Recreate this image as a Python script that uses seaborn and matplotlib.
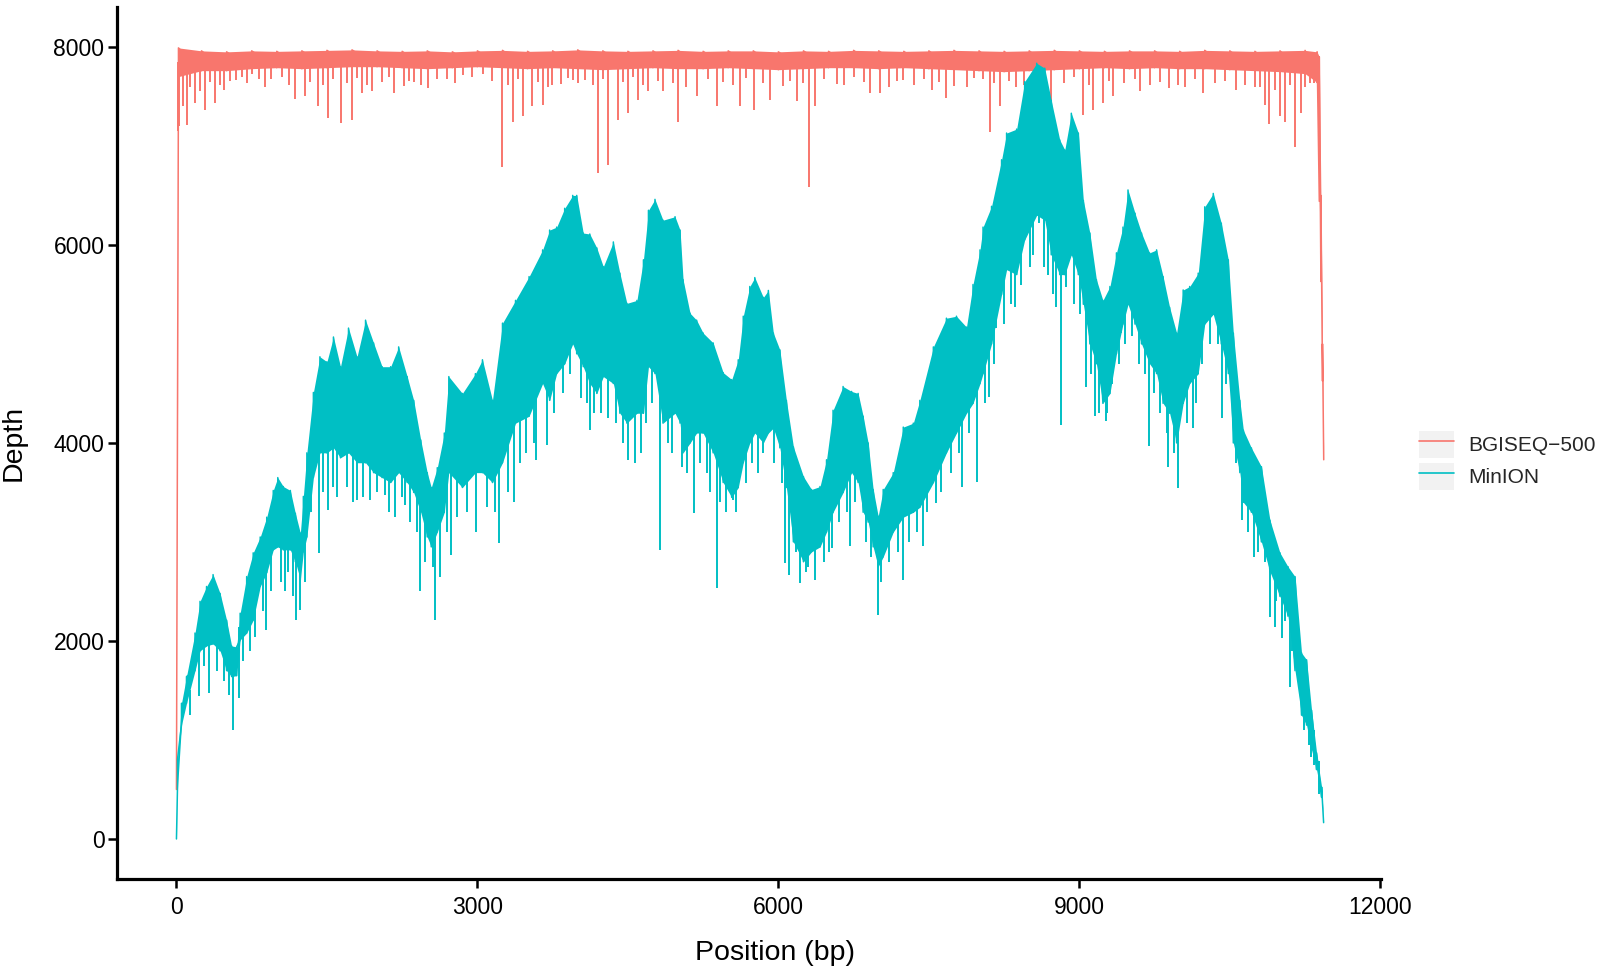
import numpy as np
import pandas as pd
import matplotlib
matplotlib.use("Agg")
import matplotlib.pyplot as plt
import seaborn as sns
from matplotlib.lines import Line2D
from matplotlib.patches import Patch

# ---------------------------------------
# Valores (profundidad por posición)
# ---------------------------------------
platforms = ["BGISEQ\u2212500", "MinION"]
colors = ["#F8766D", "#00BFC4"]

# BGISEQ-500: borde superior / inferior de la banda
bgi_pos = [0, 20, 250, 500, 750, 1000, 1250, 1500, 1750, 2000, 2250, 2500, 2750, 3000,
           3250, 3500, 3750, 4000, 4250, 4500, 4750, 5000, 5250, 5500, 5750, 6000, 6250,
           6500, 6750, 7000, 7250, 7500, 7750, 8000, 8250, 8500, 8750, 9000, 9250, 9500,
           9750, 10000, 10250, 10500, 10750, 11000, 11250, 11370, 11392, 11408, 11424, 11436]
bgi_hi = [500, 7990, 7960, 7950, 7960, 7955, 7960, 7965, 7970, 7960, 7955, 7960, 7950, 7960,
          7965, 7955, 7960, 7970, 7960, 7955, 7960, 7965, 7955, 7960, 7960, 7950, 7960,
          7955, 7965, 7960, 7955, 7960, 7965, 7960, 7955, 7960, 7965, 7960, 7955, 7960,
          7960, 7955, 7965, 7960, 7955, 7960, 7965, 7950, 7900, 6500, 5000, 3830]
bgi_lo = [500, 7700, 7760, 7760, 7780, 7790, 7780, 7790, 7800, 7800, 7790, 7780, 7790, 7800,
          7790, 7780, 7790, 7780, 7770, 7780, 7790, 7780, 7780, 7790, 7780, 7770, 7780,
          7790, 7790, 7780, 7790, 7780, 7770, 7760, 7750, 7760, 7770, 7780, 7790, 7780,
          7790, 7780, 7780, 7770, 7760, 7750, 7730, 7640, 6440, 5630, 4625, 3830]
# caídas puntuales de BGISEQ-500 (profundas y cortas)
bgi_spike_pos = [12, 30, 61, 108, 184, 284, 384, 473, 593, 749, 938, 1181, 1281, 1413, 1506,
                 1639, 1746, 1845, 1945, 2168, 2267, 2367, 2510, 2692, 2859, 3058, 3250, 3350,
                 3450, 3549, 3649, 3739, 3838, 3955, 4072, 4205, 4304, 4404, 4504, 4603, 4703,
                 4852, 5002, 5185, 5384, 5617, 5756, 5916, 6181, 6307, 6364, 6580, 6912, 7012,
                 7244, 7527, 7666, 7876, 8042, 8108, 8207, 8373, 8589, 8722, 9038, 9137, 9237,
                 9337, 9609, 9895, 9985, 10234, 10566, 10749, 10848, 10891, 10998, 11048,
                 11148, 11214, 11300,
                 140, 230, 330, 430, 530, 650, 700, 820, 880, 1050, 1120, 1330, 1460, 1560,
                 1700, 1800, 1900, 2050, 2120, 2320, 2440, 2600, 2780, 2950, 3150, 3300, 3400,
                 3600, 3700, 3900, 4000, 4150, 4250, 4450, 4550, 4650, 4800, 4950, 5080, 5300,
                 5450, 5550, 5680, 5850, 6050, 6120, 6250, 6450, 6650, 6750, 6850, 7100, 7180,
                 7350, 7450, 7600, 7750, 7950, 8150, 8300, 8450, 8650, 8850, 8950, 9100, 9300,
                 9450, 9550, 9700, 9800, 10050, 10150, 10350, 10450, 10650, 10800, 10950,
                 11100, 11250, 11340]
bgi_spike_val = [7150, 7200, 7400, 7210, 7430, 7360, 7430, 7565, 7665, 7730, 7680, 7470, 7500,
                 7400, 7280, 7235, 7260, 7530, 7550, 7530, 7605, 7650, 7580, 7680, 7715, 7730,
                 6790, 7245, 7300, 7400, 7410, 7615, 7630, 7665, 7665, 6730, 6810, 7260, 7330,
                 7465, 7550, 7550, 7245, 7500, 7400, 7400, 7360, 7465, 7450, 6580, 7400, 7630,
                 7530, 7530, 7665, 7565, 7480, 7600, 7680, 7140, 7400, 7600, 7465, 7465, 7310,
                 7360, 7430, 7500, 7550, 7580, 7615, 7530, 7565, 7600, 7410, 7220, 7300, 7245,
                 6990, 7330, 7640,
                 7600, 7550, 7650, 7620, 7660, 7700, 7640, 7680, 7600, 7700, 7620, 7650, 7620,
                 7680, 7640, 7690, 7620, 7650, 7700, 7660, 7620, 7680, 7640, 7700, 7660, 7620,
                 7680, 7650, 7600, 7690, 7640, 7620, 7680, 7650, 7700, 7620, 7660, 7640, 7600,
                 7680, 7650, 7620, 7690, 7640, 7610, 7660, 7640, 7680, 7620, 7700, 7650, 7600,
                 7660, 7620, 7680, 7650, 7610, 7690, 7640, 7660, 7620, 7680, 7640, 7700, 7620,
                 7660, 7640, 7680, 7620, 7650, 7600, 7680, 7640, 7660, 7620, 7600, 7560, 7620,
                 7600, 7640]

# MinION: borde superior / inferior de la banda
mn_pos = [0, 10, 50, 100, 185, 235, 300, 365, 435, 500, 550, 600, 635, 700, 765, 835, 900, 965,
          1010, 1065, 1135, 1185, 1235, 1265, 1300,
          1365, 1430, 1500, 1565, 1635, 1715, 1800, 1885, 1965, 2050, 2135, 2215, 2300, 2365, 2435,
          2500, 2540, 2600, 2670, 2715, 2850, 2980, 3050, 3150, 3250, 3380, 3515, 3650,
          3720, 3790, 3870, 3950, 3990, 4055, 4120, 4190, 4255, 4355, 4420, 4490, 4590,
          4655, 4705, 4770, 4850, 4970, 5020, 5050, 5120, 5185, 5250, 5350, 5450, 5535, 5600,
          5650, 5715, 5765, 5850, 5900, 5950, 6015, 6080, 6150, 6250, 6330, 6415, 6480, 6545, 6645,
          6730, 6795, 6845, 6895, 6945, 6995, 7045, 7145, 7245, 7345, 7410, 7545, 7675, 7775, 7875, 7940,
          8010, 8040, 8125, 8225, 8275, 8375, 8455, 8575, 8655, 8720, 8805, 8855, 8920, 8990, 9040,
          9105, 9170, 9235, 9305, 9370, 9435, 9485, 9555, 9620, 9700, 9770, 9835, 9900, 9970, 10035,
          10100, 10185, 10250, 10335, 10415, 10485, 10535, 10600, 10635, 10715, 10815, 10900,
          11000, 11080, 11150, 11215, 11265, 11315, 11365, 11415, 11435]
mn_hi = [0, 800, 1370, 1640, 2080, 2400, 2550, 2670, 2480, 2210, 1950, 1940, 2280, 2650, 2890,
         3050, 3250, 3520, 3650, 3560, 3520, 3290, 3090, 3460, 3900,
         4510, 4870, 4820, 5070, 4770, 5160, 4870, 5240, 5010, 4770, 4770, 4970, 4670, 4430, 4030,
         3700, 3550, 3750, 4100, 4670, 4500, 4700, 4840, 4430, 5210, 5440, 5680, 5950,
         6150, 6180, 6370, 6500, 6500, 6120, 6110, 5970, 5780, 6030, 5715, 5410, 5440,
         5850, 6350, 6460, 6250, 6285, 6150, 5650, 5310, 5240, 5110, 5010, 4710, 4640, 4840,
         5280, 5580, 5670, 5470, 5540, 5110, 4940, 4430, 3960, 3660, 3530, 3560, 3830, 4330, 4570,
         4520, 4500, 4270, 4000, 3530, 3260, 3530, 3700, 4160, 4200, 4430, 4970, 5260, 5280, 5170, 5600,
         5950, 6180, 6390, 6860, 7130, 7170, 7650, 7835, 7785, 7460, 7060, 6960, 7330, 7130, 6450,
         6120, 5650, 5440, 5580, 5920, 6180, 6555, 6320, 6120, 5920, 5950, 5680, 5370, 5110, 5545,
         5580, 5715, 6385, 6520, 6220, 5850, 5110, 4430, 4130, 3950, 3760, 3220,
         2890, 2750, 2650, 1880, 1810, 1300, 870, 525, 165]
mn_lo = [0, 500, 1150, 1370, 1700, 1900, 1950, 1970, 1900, 1700, 1640, 1650, 2010, 2080, 2210,
         2550, 2690, 2920, 2950, 2920, 2920, 2800, 2620, 2900, 3050,
         3650, 3900, 3900, 3950, 3850, 3900, 3800, 3800, 3700, 3650, 3600, 3700, 3600, 3500, 3300,
         3050, 2950, 3100, 3300, 3700, 3550, 3700, 3700, 3600, 3800, 4200, 4270, 4600,
         4430, 4700, 4800, 5000, 4900, 4770, 4600, 4500, 4670, 4600, 4300, 4200, 4300,
         4300, 4770, 4700, 4200, 4300, 4200, 3900, 4000, 4100, 4100, 3900, 3600, 3450, 3550,
         3800, 4000, 4100, 4000, 4100, 4150, 3950, 3550, 3000, 2800, 2900, 2950, 3100, 3300, 3500,
         3700, 3600, 3300, 3200, 2950, 2750, 2850, 3100, 3250, 3300, 3350, 3600, 3900, 4100, 4300, 4400,
         4600, 4700, 5000, 5500, 5750, 5700, 6050, 6300, 6250, 5900, 5700, 5700, 5900, 5700, 5400,
         5000, 4800, 4400, 4500, 4900, 5200, 5400, 5200, 5000, 4800, 4700, 4400, 4300, 4000, 4400,
         4600, 4700, 5200, 5300, 5000, 4700, 4000, 3700, 3400, 3300, 3000, 2700,
         2450, 2250, 1700, 1250, 1150, 900, 700, 420, 165]
# caídas puntuales de MinION (profundas, luego cortas)
mn_spike_pos = [227, 327, 563, 624, 787, 897, 1086, 1196, 1236, 1417, 1510, 1800, 1926, 2082,
                2282, 2432, 2578, 2631, 2738, 2987, 3219, 3369, 3585, 3694, 4122, 4504, 4570,
                4819, 5035, 5158, 5391, 5543, 5849, 6065, 6108, 6215, 6370, 6537, 6713, 6995,
                7244, 7437, 7576, 7826, 7982, 8101, 8174, 8357, 8506, 8599, 8646, 8765, 8822,
                8872, 9071, 9154, 9270, 9330, 9420, 9520, 9692, 9885, 9985, 10134, 10426,
                10622, 10742, 10898, 10948, 11024, 11104, 11174, 11314,
                140, 270, 400, 470, 520, 660, 730, 860, 940, 1040, 1110, 1160, 1280, 1340,
                1460, 1560, 1600, 1700, 1760, 1860, 2000, 2120, 2180, 2250, 2330, 2400, 2480,
                2560, 2700, 2800, 2900, 3100, 3180, 3300, 3420, 3480, 3560, 3760, 3850, 3920,
                4030, 4090, 4160, 4230, 4300, 4380, 4450, 4630, 4680, 4740, 4900, 4940, 5090,
                5220, 5290, 5320, 5420, 5480, 5580, 5680, 5740, 5800, 5960, 6040, 6180, 6280,
                6300, 6450, 6500, 6600, 6680, 6760, 6870, 6920, 7020, 7100, 7190, 7300, 7380,
                7480, 7620, 7720, 7800, 7900, 8060, 8150, 8250, 8320, 8420, 8540, 8690, 8740,
                8950, 9010, 9120, 9200, 9280, 9400, 9460, 9590, 9650, 9740, 9800, 9870, 9940,
                10070, 10160, 10220, 10300, 10380, 10460, 10560, 10680, 10780, 10850, 10960,
                11050, 11120, 11240, 11290, 11340, 11390]
mn_spike_val = [1440, 1475, 1100, 1420, 2040, 2110, 2500, 2210, 2310, 2890, 3320, 3420, 3420,
                3470, 3370, 2500, 2210, 2650, 2870, 3100, 2990, 3400, 3830, 3980, 4130, 3830,
                3800, 2920, 3760, 3290, 2535, 3420, 3900, 2790, 2670, 2590, 2620, 2940, 2955,
                2260, 2620, 2955, 3390, 3555, 3610, 4460, 5160, 5370, 5780, 6220, 5780, 5370,
                4180, 5580, 4570, 4270, 4220, 4600, 5110, 5080, 3970, 3760, 3540, 4150, 4250,
                3220, 2850, 2240, 2140, 2030, 1535, 1670, 830,
                1250, 1750, 1700, 1600, 1450, 1800, 1900, 2300, 2500, 2600, 2700, 2450, 2600,
                3300, 3500, 3550, 3450, 3550, 3400, 3450, 3500, 3300, 3250, 3450, 3200, 3100,
                2800, 2750, 3100, 3250, 3300, 3350, 3300, 3500, 3800, 3900, 4000, 4300, 4500,
                4700, 4450, 4400, 4300, 4300, 4250, 4200, 4000, 3900, 4200, 4400, 4000, 3900,
                3700, 3800, 3700, 3500, 3400, 3300, 3300, 3600, 3800, 3700, 3800, 3600, 2900,
                2700, 2750, 2800, 2900, 3200, 3300, 3400, 3000, 2850, 2600, 2800, 2900, 3000,
                3100, 3300, 3500, 3700, 3900, 4100, 4400, 4800, 5200, 5400, 5600, 5900, 5700,
                5500, 5400, 5300, 4700, 4300, 4300, 4800, 5000, 4800, 4700, 4500, 4300, 4100,
                3900, 4200, 4400, 4800, 5000, 5000, 4600, 3800, 3100, 2900, 2800, 2400, 2200,
                1900, 1100, 950, 750, 450]

x_ticks = [0, 3000, 6000, 9000, 12000]
y_ticks = [0, 2000, 4000, 6000, 8000]

series = [
    (platforms[0], bgi_pos, bgi_hi, bgi_lo, bgi_spike_pos, bgi_spike_val),
    (platforms[1], mn_pos, mn_hi, mn_lo, mn_spike_pos, mn_spike_val),
]

# tabla larga: en cada posición el borde inferior y luego el superior
rows = []
for name, pos, hi, lo, _, _ in series:
    for p, h, l in zip(pos, hi, lo):
        rows.append((name, p, l))
        rows.append((name, p, h))
df = pd.DataFrame(rows, columns=["platform", "pos", "depth"])

sns.set_theme(style="white")
plt.rcParams["font.family"] = ["Liberation Sans", "DejaVu Sans"]

fig = plt.figure(figsize=(16, 9.72), dpi=100)
ax = fig.add_axes([0.0731, 0.0957, 0.7899, 0.8971])

pal = dict(zip(platforms, colors))
sns.lineplot(data=df, x="pos", y="depth", hue="platform", palette=pal,
             sort=False, estimator=None, lw=1.1, legend=False, ax=ax)

for (name, pos, hi, lo, sp_pos, sp_val), c in zip(series, colors):
    z = 2 if name == "MinION" else 1
    ax.fill_between(pos, lo, hi, color=c, lw=0, zorder=z)
    # las caídas parten del centro de la banda más cercana
    pos_a = np.array(pos)
    mid = (np.array(hi) + np.array(lo)) / 2
    idx = np.abs(pos_a[:, None] - np.array(sp_pos)[None, :]).argmin(axis=0)
    ax.vlines(sp_pos, sp_val, mid[idx], color=c, lw=1.4, zorder=z)

for line in ax.get_lines():
    if line.get_color() in ("#00BFC4", "#00bfc4"):
        line.set_zorder(2.5)

ax.set_xlim(-593, 12005)
ax.set_ylim(-404, 8403)
ax.set_xticks(x_ticks)
ax.set_yticks(y_ticks)
ax.set_xticklabels([str(t) for t in x_ticks])
ax.set_yticklabels([str(t) for t in y_ticks])

sns.despine(ax=ax)
for s in ["left", "bottom"]:
    ax.spines[s].set_linewidth(2.3)
    ax.spines[s].set_color("black")
ax.tick_params(axis="both", which="major", length=6.5, width=1.8, color="black",
               labelsize=16.5, labelcolor="black", left=True, bottom=True)
ax.tick_params(axis="y", pad=2.5)
ax.tick_params(axis="x", pad=6)

ax.set_xlabel("Position (bp)", fontsize=20.5, color="black")
ax.set_ylabel("Depth", fontsize=20.5, color="black")
ax.xaxis.set_label_coords(0.5206, -0.070)
ax.yaxis.set_label_coords(-0.0712, 0.5)

handles = [(Patch(facecolor="#F2F2F2", edgecolor="none"), Line2D([], [], color=c, lw=1.2))
           for c in colors]
fig.legend(handles, platforms, loc="center left", bbox_to_anchor=(0.8869, 0.5262),
           frameon=False, fontsize=15, handlelength=1.68, handleheight=1.68,
           labelspacing=0.2, handletextpad=0.67, borderpad=0, borderaxespad=0)

fig.savefig("out.png", dpi=100)
